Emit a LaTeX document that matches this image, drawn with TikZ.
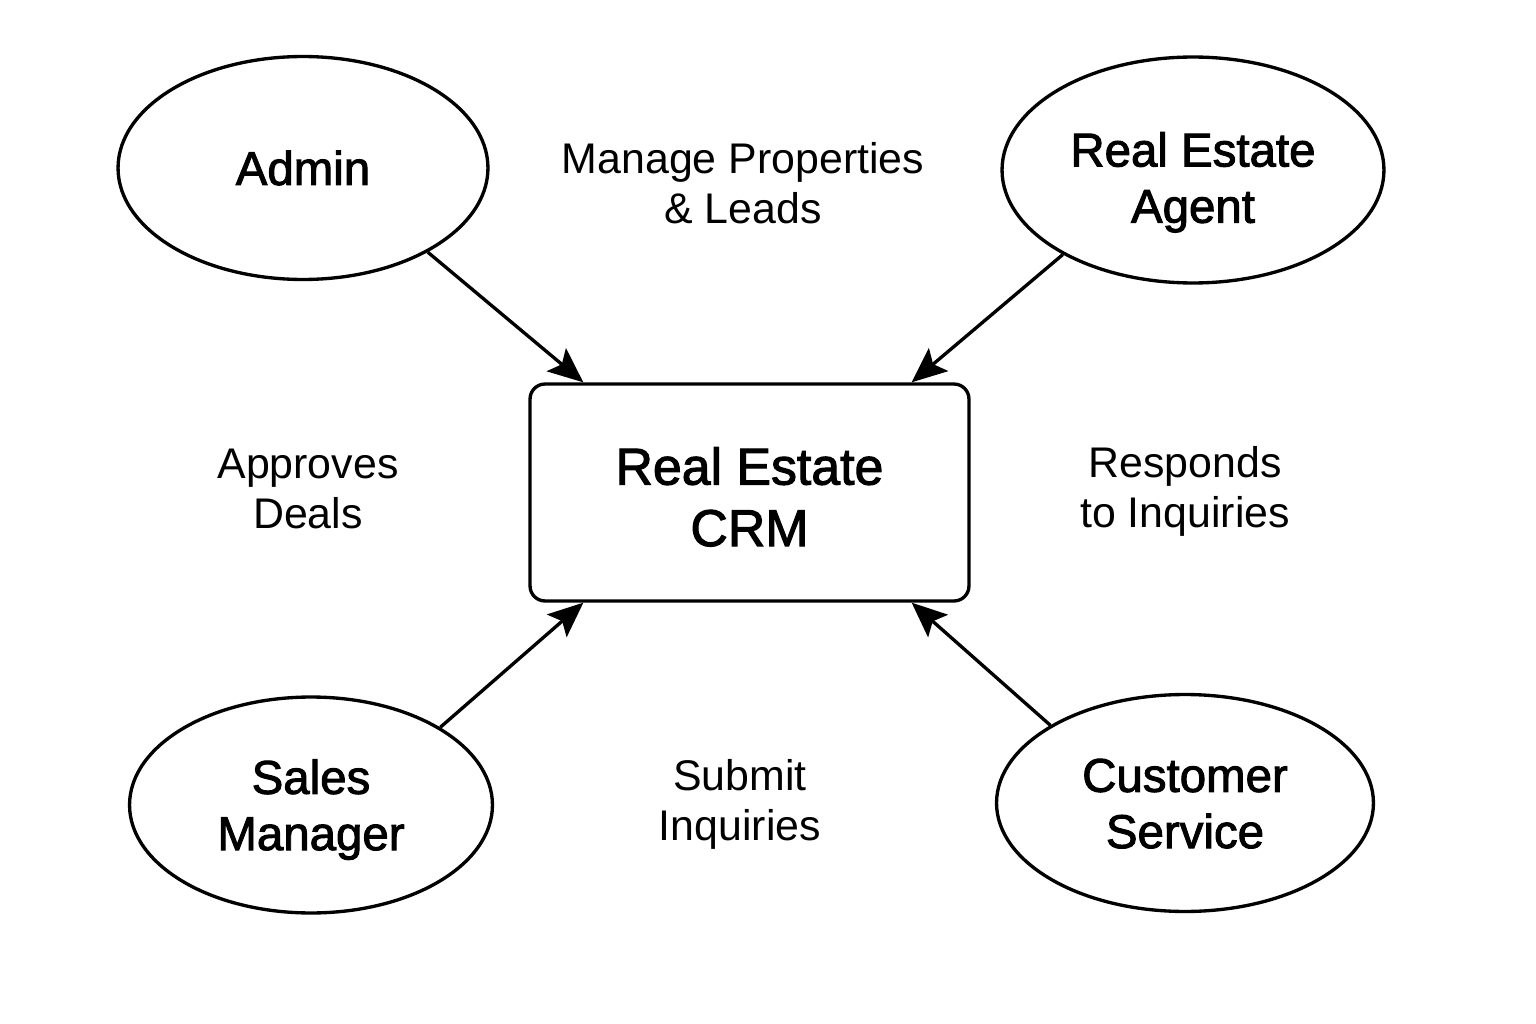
\documentclass[tikz,border=0pt]{standalone}
\usepackage{fontspec}
\setmainfont{Liberation Sans}
\newfontfamily\medfont[FakeBold=2]{Liberation Sans}
\usetikzlibrary{shapes.geometric,arrows.meta}
\begin{document}
\begin{tikzpicture}[x=0.02cm,y=-0.02cm,
  actor/.style={draw,ellipse,line width=1.9pt,inner sep=0pt,align=center,
    text depth=0pt,text height=51.3pt,
    font=\medfont\fontsize{27}{32}\selectfont},
  sysbox/.style={draw,rounded corners=0.3cm,line width=1.9pt,align=center,
    minimum width=8.78cm,minimum height=4.34cm,inner sep=0pt,
    text depth=0pt,text height=61pt,
    font=\medfont\fontsize{29.5}{35}\selectfont},
  lbl/.style={align=center,text depth=0pt,text height=45.9pt,
    font=\fontsize{24.4}{28.4}\selectfont},
  arr/.style={line width=1.9pt,-{Stealth[length=20pt,width=17pt,inset=4pt]}}]
\useasboundingbox (0,0) rectangle (1536,1024);
\node[sysbox] (crm) at (749.5,492.5) {Real Estate\\CRM};
\node[actor,minimum width=7.4cm,minimum height=4.46cm,text height=19.3pt] (admin) at (303,168) {Admin};
\node[actor,minimum width=7.64cm,minimum height=4.52cm,text height=60pt] (agent) at (1193,170) {Real Estate\\Agent};
\node[actor,minimum width=7.26cm,minimum height=4.32cm] (sales) at (311,805) {Sales\\Manager};
\node[actor,minimum width=7.54cm,minimum height=4.34cm] (cs) at (1185,803) {Customer\\Service};
\node[lbl] (l1) at (743,183) {Manage Properties\\\& Leads};
\node[lbl] (l2) at (308,488) {Approves\\Deals};
\node[lbl] (l3) at (1185,487) {Responds\\to Inquiries};
\node[lbl] (l4) at (740,800) {Submit\\Inquiries};
\draw[arr] (admin.-34) -- ([xshift=1.1cm]crm.north west);
\draw[arr] (agent.-147) -- ([xshift=-1.18cm]crm.north east);
\draw[arr] (sales.31) -- ([xshift=1.1cm]crm.south west);
\draw[arr] (cs.150) -- ([xshift=-1.18cm]crm.south east);
\end{tikzpicture}
\end{document}
